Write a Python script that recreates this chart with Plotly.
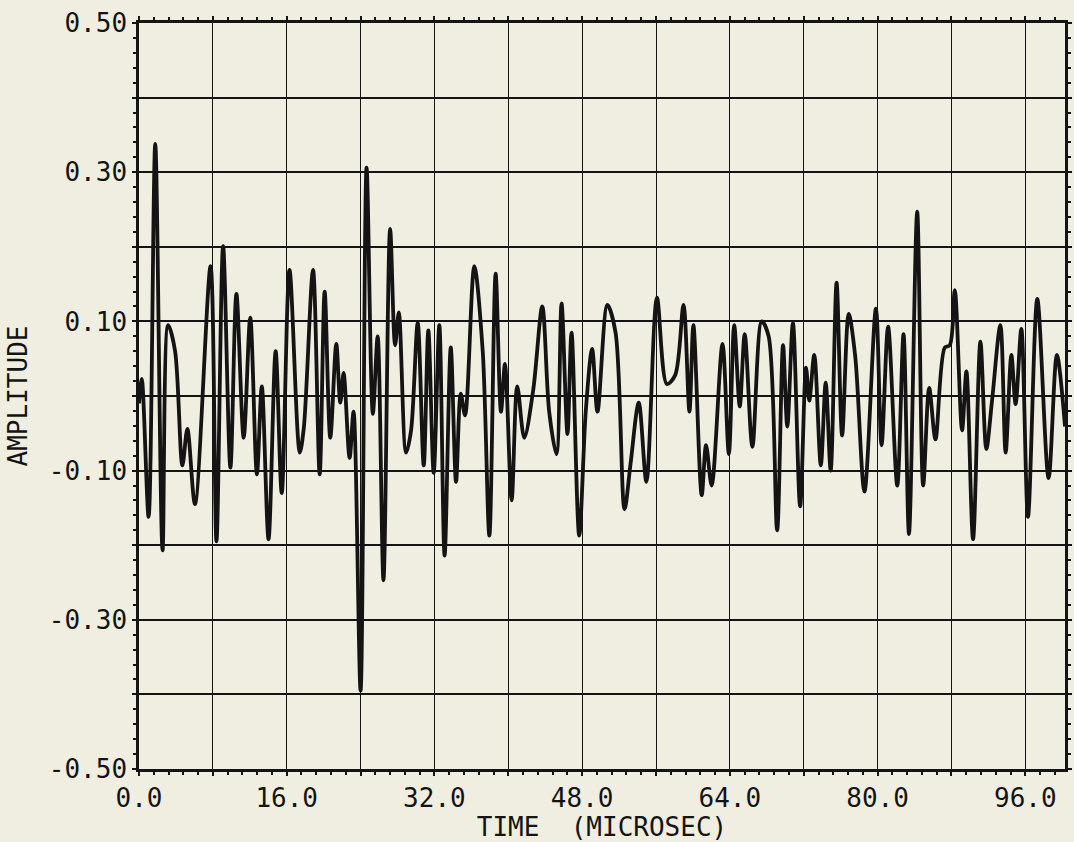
import plotly.graph_objects as go

# Digitised waveform (time in microseconds, amplitude)
time_us = [0.0, 0.3, 1.04, 1.76, 2.55, 3.16, 3.91, 4.7, 5.24, 6.06, 7.75, 8.39, 9.11, 9.9,
           10.55, 11.34, 12.05, 12.77, 13.3, 14.03, 14.8, 15.46, 16.3, 17.41, 17.85, 18.85,
           19.57, 20.11, 20.72, 21.37, 21.8, 22.16, 22.81, 23.24, 24.0, 24.65, 25.33, 25.85,
           26.48, 27.2, 27.74, 28.14, 28.93, 29.47, 30.19, 30.84, 31.34, 31.92, 32.53, 33.1,
           33.77, 34.34, 34.85, 35.32, 36.32, 37.23, 37.95, 38.63, 39.21, 39.64, 40.36, 40.97,
           41.73, 42.7, 43.68, 44.43, 45.22, 45.77, 46.41, 46.85, 47.68, 48.4, 49.08, 49.66,
           50.73, 51.62, 52.59, 53.24, 54.13, 54.96, 56.1, 57.18, 58.08, 58.98, 59.62, 60.05,
           60.95, 61.42, 62.03, 63.2, 63.89, 64.47, 65.07, 65.61, 66.44, 67.45, 68.2, 69.12,
           69.76, 70.22, 70.83, 71.61, 72.25, 72.6, 73.14, 73.85, 74.38, 74.92, 75.56, 76.16,
           76.87, 77.58, 78.58, 79.82, 80.43, 81.14, 82.13, 82.81, 83.4, 84.29, 84.94, 85.59,
           86.27, 87.28, 87.82, 88.36, 89.15, 89.62, 90.34, 91.14, 91.78, 92.4, 93.3, 93.87,
           94.49, 94.95, 95.57, 96.29, 97.3, 98.52, 99.42, 100.3]
amplitude = [-0.01, 0.023, -0.162, 0.338, -0.207, 0.095, 0.060, -0.093, -0.044, -0.145, 0.174,
             -0.195, 0.201, -0.096, 0.137, -0.056, 0.105, -0.105, 0.013, -0.192, 0.06, -0.130,
             0.169, -0.076, -0.043, 0.169, -0.105, 0.140, -0.056, 0.070, -0.009, 0.031, -0.083,
             -0.021, -0.395, 0.306, -0.024, 0.08, -0.247, 0.224, 0.068, 0.112, -0.076, -0.046,
             0.098, -0.093, 0.088, -0.103, 0.095, -0.214, 0.065, -0.115, 0.003, -0.026, 0.174,
             0.060, -0.187, 0.164, -0.021, 0.043, -0.140, 0.013, -0.056, 0.008, 0.120, -0.021,
             -0.078, 0.124, -0.051, 0.085, -0.187, -0.019, 0.063, -0.021, 0.122, 0.085, -0.152,
             -0.091, -0.009, -0.115, 0.132, 0.016, 0.028, 0.122, -0.021, 0.095, -0.133, -0.066,
             -0.120, 0.070, -0.078, 0.095, -0.014, 0.083, -0.068, 0.100, 0.080, -0.180, 0.068,
             -0.041, 0.098, -0.148, 0.038, -0.006, 0.055, -0.093, 0.018, -0.100, 0.152, -0.053,
             0.110, 0.053, -0.128, 0.117, -0.066, 0.093, -0.120, 0.083, -0.185, 0.247, -0.120,
             0.011, -0.058, 0.065, 0.068, 0.142, -0.046, 0.033, -0.192, 0.073, -0.071, -0.006,
             0.095, -0.076, 0.055, -0.011, 0.09, -0.162, 0.130, -0.110, 0.055, -0.041]

x_tickvals = [0, 8, 16, 24, 32, 40, 48, 56, 64, 72, 80, 88, 96]
x_ticktext = ["0.0", "", "16.0", "", "32.0", "", "48.0", "", "64.0", "", "80.0", "", "96.0"]
y_tickvals = [-0.5, -0.4, -0.3, -0.2, -0.1, 0.0, 0.1, 0.2, 0.3, 0.4, 0.5]
y_ticktext = ["-0.50", "", "-0.30", "", "-0.10", "", "0.10", "", "0.30", "", "0.50"]

BG = "#efeee1"
INK = "#141414"
FONT = "DejaVu Sans Mono"

fig = go.Figure()
fig.add_trace(go.Scatter(
    x=time_us, y=amplitude, mode="lines",
    line=dict(color=INK, width=3.8, shape="spline", smoothing=0.9),
    showlegend=False, hoverinfo="skip",
))

fig.update_layout(
    width=1074, height=842,
    margin=dict(l=139, r=2, t=23, b=73),
    paper_bgcolor=BG, plot_bgcolor=BG,
    font=dict(family=FONT, size=26, color=INK),
    xaxis=dict(
        range=[0, 100.3], tickmode="array", tickvals=x_tickvals, ticktext=x_ticktext,
        showgrid=True, gridcolor=INK, gridwidth=1.3,
        showline=True, linecolor=INK, linewidth=2.5, mirror="allticks",
        ticks="outside", ticklen=4, tickwidth=2, tickcolor=INK,
        minor=dict(dtick=1.6, ticks="outside", ticklen=3, tickwidth=1.5, tickcolor=INK, showgrid=False),
        zeroline=False, tickfont=dict(size=26, family=FONT),
        title=dict(text="TIME  (MICROSEC)", font=dict(size=26, family=FONT), standoff=2),
    ),
    yaxis=dict(
        range=[-0.5, 0.5], tickmode="array", tickvals=y_tickvals, ticktext=y_ticktext,
        showgrid=True, gridcolor=INK, gridwidth=1.8,
        showline=True, linecolor=INK, linewidth=2.5, mirror="allticks",
        ticks="outside", ticklen=4, tickwidth=2, tickcolor=INK,
        minor=dict(dtick=0.02, ticks="outside", ticklen=3, tickwidth=1.5, tickcolor=INK, showgrid=False),
        zeroline=False, tickfont=dict(size=26, family=FONT),
        title=dict(text="AMPLITUDE", font=dict(size=26, family=FONT), standoff=14),
    ),
)

fig.write_html(
    "out.html",
    config={"displayModeBar": False},
    post_script="document.body.style.margin='0';document.body.style.background='%s';" % BG,
)
